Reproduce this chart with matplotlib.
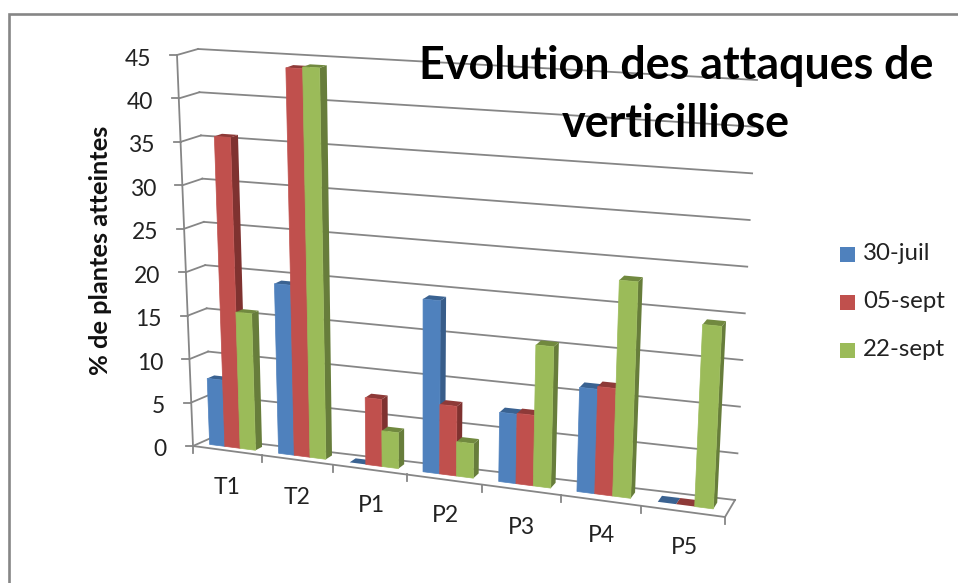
import numpy as np
import matplotlib
matplotlib.use("Agg")
import matplotlib.pyplot as plt
from matplotlib.transforms import Transform, IdentityTransform

categories = ["T1", "T2", "P1", "P2", "P3", "P4", "P5"]
series_names = ["30-juil", "05-sept", "22-sept"]
juil_30 = [7.6, 19.3, 0, 19.2, 7.6, 11.3, 0]
sept_05 = [35.6, 44.0, 7.5, 7.7, 7.7, 11.6, 0]
sept_22 = [15.6, 44.2, 4.0, 3.8, 15.4, 23.3, 19.4]
y_ticks = list(range(0, 50, 5))

FRONT = ["#4F81BD", "#C0504D", "#9BBB59"]
SIDE = ["#385D8A", "#7F3230", "#677D3B"]
TOP = ["#3A6291", "#8E3A38", "#71893F"]
GRID = "#868686"

W, H = 958, 583
YMAX = 45.0
K = -0.106
# Pixel corners of the chart box (depth, height, across)
C = {(0, 0, 0): (193, 446), (0, 1, 0): (177, 55), (0, 0, 1): (725, 517), (0, 1, 1): (745, 90),
     (1, 0, 0): (211, 438), (1, 1, 0): (198, 49), (1, 0, 1): (735, 500), (1, 1, 1): (757, 80)}


def project(x, y, z):
    x, y, z = np.asarray(x, float), np.asarray(y, float), np.asarray(z, float)
    t = x / 7.0
    s = t * (1 + K) / (1 + K * t)
    v = y / YMAX
    px, py = 0.0, 0.0
    for (zc, vc, sc), (cx, cy) in C.items():
        w = (z if zc else 1 - z) * (v if vc else 1 - v) * (s if sc else 1 - s)
        px = px + w * cx
        py = py + w * cy
    return px, H - py


class BoxPlane(Transform):
    input_dims = output_dims = 2
    has_inverse = False

    def __init__(self, z):
        super().__init__()
        self.z = z

    def transform_non_affine(self, values):
        values = np.asarray(values, float)
        px, py = project(values[:, 0], values[:, 1], self.z)
        return np.column_stack([px, py])

    def transform(self, values):
        return self.transform_non_affine(values)


plt.rcParams["font.family"] = ["Lato", "DejaVu Sans"]
fig = plt.figure(figsize=(W / 100, H / 100), dpi=100)
ax = fig.add_axes([0, 0, 1, 1])
ax.set_xlim(0, W)
ax.set_ylim(0, H)
ax.axis("off")

ident = IdentityTransform()
back = BoxPlane(1.0)
front = BoxPlane(0.0)
LW = 1.3
TXT = "#222222"

# frame of the chart (open at the right and bottom)
ax.plot([W, 9.5, 9.5], [H - 13.7, H - 13.7, 0], color="#868686", lw=1.9, zorder=0.5,
        solid_joinstyle="miter")

# wall gridlines, left wall and floor
for v in y_ticks:
    ax.plot([0, 7], [v, v], transform=back, color=GRID, lw=LW, zorder=1)
    a = project(0, v, 0)
    b = project(0, v, 1)
    ax.plot([a[0], b[0]], [a[1], b[1]], transform=ident, color=GRID, lw=LW, zorder=1)
    ax.plot([a[0] - 7, a[0]], [a[1], a[1]], transform=ident, color=GRID, lw=LW, zorder=1)
    ax.text(a[0] - 26, a[1] - 4, str(v), transform=ident, ha="right", va="center",
            fontsize=16.5, color=TXT)

ax.plot([0, 0], [0, YMAX], transform=front, color=GRID, lw=LW, zorder=1)
ax.plot([0, 7], [0, 0], transform=front, color=GRID, lw=LW, zorder=1)
a, b = project(7, 0, 0), project(7, 0, 1)
ax.plot([a[0], b[0]], [a[1], b[1]], transform=ident, color=GRID, lw=LW, zorder=1)
for i in range(8):
    p = project(i, 0, 0)
    ax.plot([p[0], p[0]], [p[1], p[1] - 7], transform=ident, color=GRID, lw=LW, zorder=1)

# bars
Z0, Z1 = 0.36, 0.74
BAR_START, BAR_W = 0.15, 0.223
values = [juil_30, sept_05, sept_22]
order = 2
for i in range(len(categories)):
    for j in range(3):
        val = values[j][i]
        x0 = i + BAR_START + j * BAR_W
        x1 = x0 + BAR_W
        pts_side = [project(x1, 0, Z0), project(x1, val, Z0), project(x1, val, Z1), project(x1, 0, Z1)]
        pts_top = [project(x0, val, Z0), project(x1, val, Z0), project(x1, val, Z1), project(x0, val, Z1)]
        ax.fill(*zip(*pts_side), color=SIDE[j], lw=0, transform=ident, zorder=order)
        ax.fill(*zip(*pts_top), color=TOP[j], lw=0, transform=ident, zorder=order)
        if val > 0:
            ax.bar(x0, val, BAR_W, align="edge", facecolor=FRONT[j], edgecolor=FRONT[j], lw=0.5,
                   transform=BoxPlane(Z0), zorder=order + 0.5)
        order += 1

# category labels
label_xy = [(227, 488), (297, 498), (371, 506), (445, 516), (521, 527), (601, 536), (684, 548)]
for name, (lx, ly) in zip(categories, label_xy):
    ax.text(lx, H - ly, name, transform=ident, ha="center", va="center", fontsize=16.5, color=TXT)

# y title
ax.text(101, H - 250, "% de plantes atteintes", transform=ident, rotation=90, ha="center", va="center",
        fontsize=18.3, fontweight="bold", color="#111111")

# title
ax.text(676, H - 66, "Evolution des attaques de", transform=ident, ha="center", va="center",
        fontsize=32.3, fontweight="bold", color="black", zorder=50)
ax.text(676, H - 124, "verticilliose", transform=ident, ha="center", va="center",
        fontsize=32.3, fontweight="bold", color="black", zorder=50)

# legend
for name, col, ly in zip(series_names, FRONT, [254, 302, 350]):
    ax.fill([840, 855, 855, 840], [H - ly - 7.5, H - ly - 7.5, H - ly + 7.5, H - ly + 7.5], color=col, lw=0,
            transform=ident)
    ax.text(863, H - ly, name, transform=ident, ha="left", va="center", fontsize=17.3, color=TXT)

ax.set_xlim(0, W)
ax.set_ylim(0, H)
fig.savefig("out.png", dpi=100)
